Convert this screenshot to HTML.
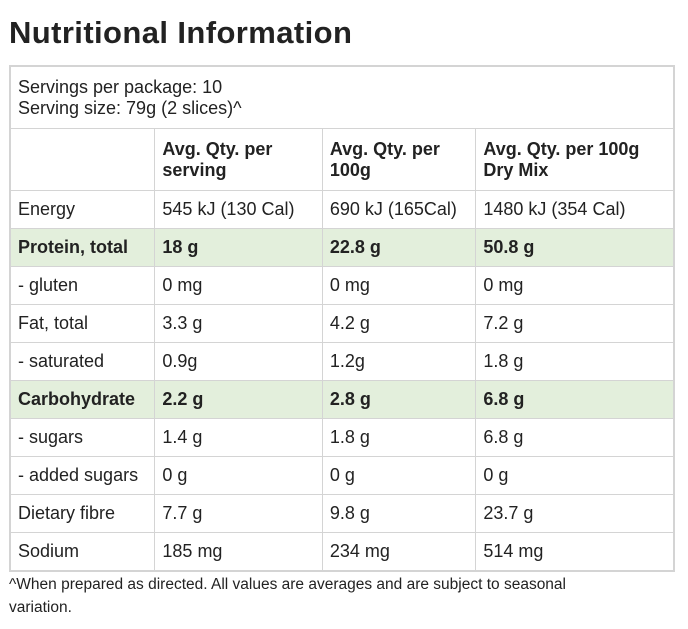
<!DOCTYPE html>
<html><head><meta charset="utf-8"><style>
body{margin:0;width:688px;height:629px;background:#fff;font-family:"Liberation Sans",sans-serif;color:#222;position:relative;overflow:hidden}
h1{position:absolute;left:9px;top:15px;margin:0;font-size:31px;font-weight:bold;letter-spacing:0.4px}
table{position:absolute;left:9px;top:65px;width:666px;border-collapse:collapse;font-size:18px;border:2px solid #d4d4d4}
td{border:1px solid #d4d4d4;padding:0 7px;height:37px;vertical-align:middle;line-height:21px}
tr.g td{background:#e3efdc;font-weight:bold}
th{border:1px solid #d4d4d4;text-align:left;padding:0 7px;font-size:18px;line-height:21px;height:61px}
.serv td{height:61px}
.note{position:absolute;left:9px;top:573px;font-size:15.5px;line-height:23px;width:610px}
</style></head><body>
<h1>Nutritional Information</h1>
<table>
<colgroup><col style="width:145px"><col style="width:168px"><col style="width:154px"><col style="width:199px"></colgroup>
<tr class="serv"><td colspan="4">Servings per package: 10<br>Serving size: 79g (2 slices)^</td></tr>
<tr><th></th><th>Avg. Qty. per serving</th><th>Avg. Qty. per 100g</th><th>Avg. Qty. per 100g Dry Mix</th></tr>
<tr><td>Energy</td><td>545 kJ (130 Cal)</td><td>690 kJ (165Cal)</td><td>1480 kJ (354 Cal)</td></tr>
<tr class="g"><td>Protein, total</td><td>18 g</td><td>22.8 g</td><td>50.8 g</td></tr>
<tr><td>- gluten</td><td>0 mg</td><td>0 mg</td><td>0 mg</td></tr>
<tr><td>Fat, total</td><td>3.3 g</td><td>4.2 g</td><td>7.2 g</td></tr>
<tr><td>- saturated</td><td>0.9g</td><td>1.2g</td><td>1.8 g</td></tr>
<tr class="g"><td>Carbohydrate</td><td>2.2 g</td><td>2.8 g</td><td>6.8 g</td></tr>
<tr><td>- sugars</td><td>1.4 g</td><td>1.8 g</td><td>6.8 g</td></tr>
<tr><td>- added sugars</td><td>0 g</td><td>0 g</td><td>0 g</td></tr>
<tr><td>Dietary fibre</td><td>7.7 g</td><td>9.8 g</td><td>23.7 g</td></tr>
<tr><td>Sodium</td><td>185 mg</td><td>234 mg</td><td>514 mg</td></tr>
</table>
<div class="note">^When prepared as directed. All values are averages and are subject to seasonal variation.</div>
</body></html>
